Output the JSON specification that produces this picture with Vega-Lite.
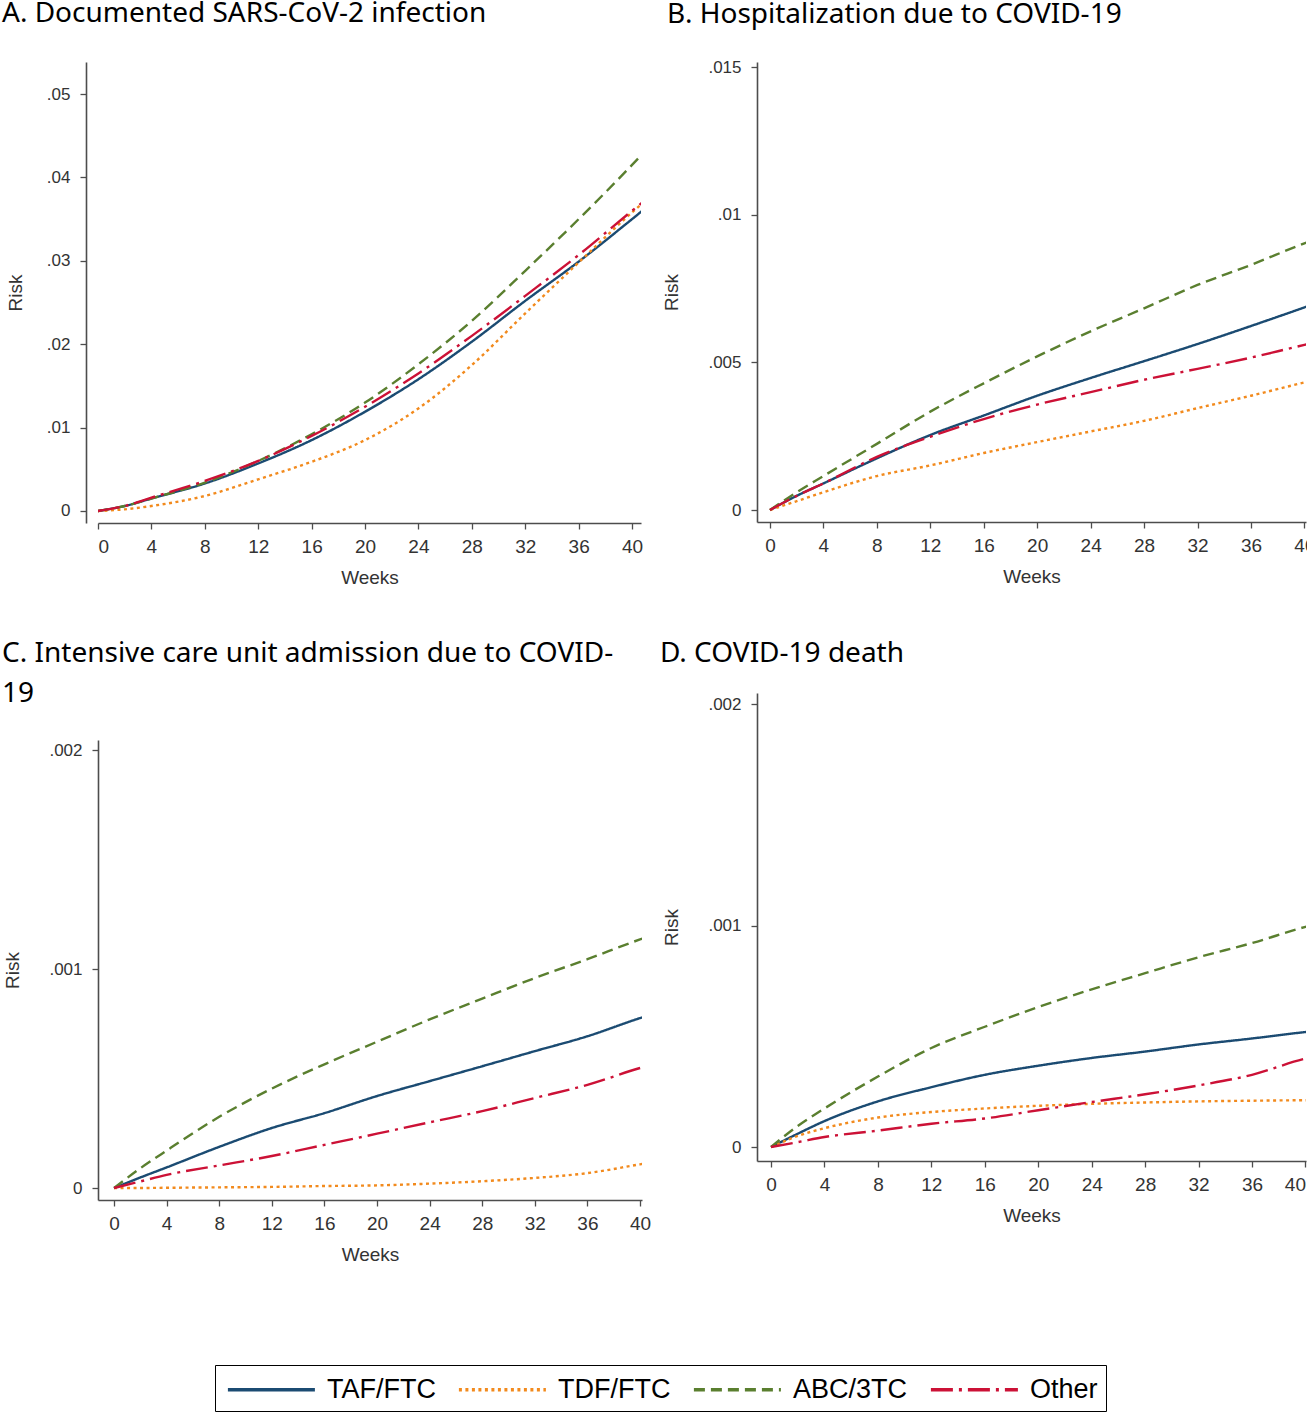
{
  "$schema": "https://vega.github.io/schema/vega-lite/v6.json",
  "padding": {"left": 2, "top": 0, "right": 0, "bottom": 0},
  "background": "white",
  "config": {
    "view": {"stroke": null},
    "axis": {"grid": false, "domainColor": "#4d4d4d", "domainWidth": 1.6, "tickColor": "#4d4d4d", "tickWidth": 1.3, "tickSize": 6, "labelFont": "Liberation Sans", "labelColor": "#333333", "titleFont": "Liberation Sans", "titleFontSize": 19, "titleFontWeight": "normal", "titleColor": "#333333"},
    "axisX": {"labelFontSize": 19, "labelPadding": 8, "titlePadding": 12},
    "axisY": {"labelFontSize": 17, "labelPadding": 10, "titlePadding": 26},
    "title": {"font": "Noto Sans", "fontSize": 28, "fontWeight": "normal", "color": "#000000", "anchor": "start", "frame": "group", "baseline": "alphabetic", "lineHeight": 40},
    "legend": {"title": null, "orient": "none", "legendX": 117, "legendY": 1303, "direction": "horizontal", "columns": 4, "symbolType": "M-0.8,0H5.2", "symbolSize": 841, "symbolStrokeWidth": 3.5, "labelFont": "Liberation Sans", "labelFontSize": 27, "labelColor": "#000000", "labelOffset": 71, "columnPadding": 15, "padding": 8, "strokeColor": "#000000", "fillColor": "#ffffff", "labelLimit": 400}
  },
  "datasets": {
    "A": [
      {"week":0,"regimen":"TAF/FTC","risk":0},{"week":2,"regimen":"TAF/FTC","risk":0.0006},{"week":4,"regimen":"TAF/FTC","risk":0.0015},{"week":8,"regimen":"TAF/FTC","risk":0.0033},{"week":12,"regimen":"TAF/FTC","risk":0.0057},{"week":16,"regimen":"TAF/FTC","risk":0.0085},{"week":20,"regimen":"TAF/FTC","risk":0.0119},{"week":24,"regimen":"TAF/FTC","risk":0.0158},{"week":28,"regimen":"TAF/FTC","risk":0.0203},{"week":32,"regimen":"TAF/FTC","risk":0.0252},{"week":36,"regimen":"TAF/FTC","risk":0.0299},{"week":40,"regimen":"TAF/FTC","risk":0.0350},{"week":41,"regimen":"TAF/FTC","risk":0.0363},
      {"week":0,"regimen":"TDF/FTC","risk":0},{"week":2,"regimen":"TDF/FTC","risk":0.0002},{"week":4,"regimen":"TDF/FTC","risk":0.0006},{"week":8,"regimen":"TDF/FTC","risk":0.0018},{"week":12,"regimen":"TDF/FTC","risk":0.0038},{"week":16,"regimen":"TDF/FTC","risk":0.0059},{"week":20,"regimen":"TDF/FTC","risk":0.0085},{"week":24,"regimen":"TDF/FTC","risk":0.0123},{"week":28,"regimen":"TDF/FTC","risk":0.0175},{"week":32,"regimen":"TDF/FTC","risk":0.0237},{"week":36,"regimen":"TDF/FTC","risk":0.0298},{"week":40,"regimen":"TDF/FTC","risk":0.0358},{"week":41,"regimen":"TDF/FTC","risk":0.0372},
      {"week":0,"regimen":"ABC/3TC","risk":0},{"week":2,"regimen":"ABC/3TC","risk":0.0006},{"week":4,"regimen":"ABC/3TC","risk":0.0015},{"week":8,"regimen":"ABC/3TC","risk":0.0034},{"week":12,"regimen":"ABC/3TC","risk":0.0060},{"week":16,"regimen":"ABC/3TC","risk":0.0092},{"week":20,"regimen":"ABC/3TC","risk":0.0130},{"week":24,"regimen":"ABC/3TC","risk":0.0176},{"week":28,"regimen":"ABC/3TC","risk":0.0228},{"week":32,"regimen":"ABC/3TC","risk":0.0288},{"week":36,"regimen":"ABC/3TC","risk":0.0350},{"week":40,"regimen":"ABC/3TC","risk":0.0415},{"week":41,"regimen":"ABC/3TC","risk":0.0432},
      {"week":0,"regimen":"Other","risk":0},{"week":2,"regimen":"Other","risk":0.0006},{"week":4,"regimen":"Other","risk":0.0016},{"week":8,"regimen":"Other","risk":0.0036},{"week":12,"regimen":"Other","risk":0.0060},{"week":16,"regimen":"Other","risk":0.0090},{"week":20,"regimen":"Other","risk":0.0125},{"week":24,"regimen":"Other","risk":0.0165},{"week":28,"regimen":"Other","risk":0.0210},{"week":32,"regimen":"Other","risk":0.0258},{"week":36,"regimen":"Other","risk":0.0307},{"week":40,"regimen":"Other","risk":0.0360},{"week":41,"regimen":"Other","risk":0.0373}
    ],
    "B": [
      {"week":0,"regimen":"TAF/FTC","risk":0},{"week":2,"regimen":"TAF/FTC","risk":0.00048},{"week":4,"regimen":"TAF/FTC","risk":0.0009},{"week":8,"regimen":"TAF/FTC","risk":0.00175},{"week":12,"regimen":"TAF/FTC","risk":0.00254},{"week":16,"regimen":"TAF/FTC","risk":0.0032},{"week":20,"regimen":"TAF/FTC","risk":0.00387},{"week":24,"regimen":"TAF/FTC","risk":0.00447},{"week":28,"regimen":"TAF/FTC","risk":0.00504},{"week":32,"regimen":"TAF/FTC","risk":0.00562},{"week":36,"regimen":"TAF/FTC","risk":0.00623},{"week":40,"regimen":"TAF/FTC","risk":0.00686},{"week":41,"regimen":"TAF/FTC","risk":0.00702},
      {"week":0,"regimen":"TDF/FTC","risk":0},{"week":2,"regimen":"TDF/FTC","risk":0.0003},{"week":4,"regimen":"TDF/FTC","risk":0.0006},{"week":8,"regimen":"TDF/FTC","risk":0.00115},{"week":12,"regimen":"TDF/FTC","risk":0.00151},{"week":16,"regimen":"TDF/FTC","risk":0.00193},{"week":20,"regimen":"TDF/FTC","risk":0.0023},{"week":24,"regimen":"TDF/FTC","risk":0.00266},{"week":28,"regimen":"TDF/FTC","risk":0.00302},{"week":32,"regimen":"TDF/FTC","risk":0.00345},{"week":36,"regimen":"TDF/FTC","risk":0.00387},{"week":40,"regimen":"TDF/FTC","risk":0.00432},{"week":41,"regimen":"TDF/FTC","risk":0.00443},
      {"week":0,"regimen":"ABC/3TC","risk":0},{"week":2,"regimen":"ABC/3TC","risk":0.0006},{"week":4,"regimen":"ABC/3TC","risk":0.00115},{"week":8,"regimen":"ABC/3TC","risk":0.00224},{"week":12,"regimen":"ABC/3TC","risk":0.00333},{"week":16,"regimen":"ABC/3TC","risk":0.00429},{"week":20,"regimen":"ABC/3TC","risk":0.0052},{"week":24,"regimen":"ABC/3TC","risk":0.00605},{"week":28,"regimen":"ABC/3TC","risk":0.00683},{"week":32,"regimen":"ABC/3TC","risk":0.00762},{"week":36,"regimen":"ABC/3TC","risk":0.0083},{"week":40,"regimen":"ABC/3TC","risk":0.00903},{"week":41,"regimen":"ABC/3TC","risk":0.0092},
      {"week":0,"regimen":"Other","risk":0},{"week":2,"regimen":"Other","risk":0.00048},{"week":4,"regimen":"Other","risk":0.0009},{"week":8,"regimen":"Other","risk":0.0018},{"week":12,"regimen":"Other","risk":0.00248},{"week":16,"regimen":"Other","risk":0.00308},{"week":20,"regimen":"Other","risk":0.00357},{"week":24,"regimen":"Other","risk":0.00399},{"week":28,"regimen":"Other","risk":0.00441},{"week":32,"regimen":"Other","risk":0.00478},{"week":36,"regimen":"Other","risk":0.00516},{"week":40,"regimen":"Other","risk":0.00559},{"week":41,"regimen":"Other","risk":0.00569}
    ],
    "C": [
      {"week":0,"regimen":"TAF/FTC","risk":0},{"week":2,"regimen":"TAF/FTC","risk":0.000048},{"week":4,"regimen":"TAF/FTC","risk":0.000094},{"week":8,"regimen":"TAF/FTC","risk":0.000188},{"week":12,"regimen":"TAF/FTC","risk":0.000274},{"week":16,"regimen":"TAF/FTC","risk":0.000342},{"week":20,"regimen":"TAF/FTC","risk":0.00042},{"week":24,"regimen":"TAF/FTC","risk":0.000488},{"week":28,"regimen":"TAF/FTC","risk":0.000556},{"week":32,"regimen":"TAF/FTC","risk":0.000625},{"week":36,"regimen":"TAF/FTC","risk":0.000693},{"week":40,"regimen":"TAF/FTC","risk":0.000776},{"week":41,"regimen":"TAF/FTC","risk":0.000795},
      {"week":0,"regimen":"TDF/FTC","risk":0},{"week":2,"regimen":"TDF/FTC","risk":0},{"week":4,"regimen":"TDF/FTC","risk":0.000001},{"week":8,"regimen":"TDF/FTC","risk":0.000003},{"week":12,"regimen":"TDF/FTC","risk":0.000005},{"week":16,"regimen":"TDF/FTC","risk":0.000009},{"week":20,"regimen":"TDF/FTC","risk":0.000012},{"week":24,"regimen":"TDF/FTC","risk":0.00002},{"week":28,"regimen":"TDF/FTC","risk":0.000031},{"week":32,"regimen":"TDF/FTC","risk":0.000046},{"week":36,"regimen":"TDF/FTC","risk":0.000068},{"week":40,"regimen":"TDF/FTC","risk":0.000108},{"week":41,"regimen":"TDF/FTC","risk":0.000118},
      {"week":0,"regimen":"ABC/3TC","risk":0},{"week":2,"regimen":"ABC/3TC","risk":0.00009},{"week":4,"regimen":"ABC/3TC","risk":0.000171},{"week":8,"regimen":"ABC/3TC","risk":0.000325},{"week":12,"regimen":"ABC/3TC","risk":0.000454},{"week":16,"regimen":"ABC/3TC","risk":0.000565},{"week":20,"regimen":"ABC/3TC","risk":0.000668},{"week":24,"regimen":"ABC/3TC","risk":0.00077},{"week":28,"regimen":"ABC/3TC","risk":0.000865},{"week":32,"regimen":"ABC/3TC","risk":0.000959},{"week":36,"regimen":"ABC/3TC","risk":0.001045},{"week":40,"regimen":"ABC/3TC","risk":0.001135},{"week":41,"regimen":"ABC/3TC","risk":0.001155},
      {"week":0,"regimen":"Other","risk":0},{"week":2,"regimen":"Other","risk":0.00003},{"week":4,"regimen":"Other","risk":0.00006},{"week":8,"regimen":"Other","risk":0.000103},{"week":12,"regimen":"Other","risk":0.000146},{"week":16,"regimen":"Other","risk":0.000197},{"week":20,"regimen":"Other","risk":0.000248},{"week":24,"regimen":"Other","risk":0.0003},{"week":28,"regimen":"Other","risk":0.000351},{"week":32,"regimen":"Other","risk":0.000411},{"week":36,"regimen":"Other","risk":0.000471},{"week":40,"regimen":"Other","risk":0.000548},{"week":41,"regimen":"Other","risk":0.000565}
    ],
    "D": [
      {"week":0,"regimen":"TAF/FTC","risk":0},{"week":2,"regimen":"TAF/FTC","risk":0.00006},{"week":4,"regimen":"TAF/FTC","risk":0.000117},{"week":8,"regimen":"TAF/FTC","risk":0.000206},{"week":12,"regimen":"TAF/FTC","risk":0.00027},{"week":16,"regimen":"TAF/FTC","risk":0.000326},{"week":20,"regimen":"TAF/FTC","risk":0.000367},{"week":24,"regimen":"TAF/FTC","risk":0.000402},{"week":28,"regimen":"TAF/FTC","risk":0.000431},{"week":32,"regimen":"TAF/FTC","risk":0.000463},{"week":36,"regimen":"TAF/FTC","risk":0.00049},{"week":40,"regimen":"TAF/FTC","risk":0.000519},{"week":41,"regimen":"TAF/FTC","risk":0.000525},
      {"week":0,"regimen":"TDF/FTC","risk":0},{"week":2,"regimen":"TDF/FTC","risk":0.00005},{"week":4,"regimen":"TDF/FTC","risk":0.000085},{"week":8,"regimen":"TDF/FTC","risk":0.000133},{"week":12,"regimen":"TDF/FTC","risk":0.000158},{"week":16,"regimen":"TDF/FTC","risk":0.000174},{"week":20,"regimen":"TDF/FTC","risk":0.000186},{"week":24,"regimen":"TDF/FTC","risk":0.000195},{"week":28,"regimen":"TDF/FTC","risk":0.000201},{"week":32,"regimen":"TDF/FTC","risk":0.000206},{"week":36,"regimen":"TDF/FTC","risk":0.000209},{"week":40,"regimen":"TDF/FTC","risk":0.000211},{"week":41,"regimen":"TDF/FTC","risk":0.000211},
      {"week":0,"regimen":"ABC/3TC","risk":0},{"week":2,"regimen":"ABC/3TC","risk":0.000095},{"week":4,"regimen":"ABC/3TC","risk":0.000174},{"week":8,"regimen":"ABC/3TC","risk":0.000318},{"week":12,"regimen":"ABC/3TC","risk":0.000447},{"week":16,"regimen":"ABC/3TC","risk":0.000543},{"week":20,"regimen":"ABC/3TC","risk":0.000632},{"week":24,"regimen":"ABC/3TC","risk":0.000712},{"week":28,"regimen":"ABC/3TC","risk":0.000785},{"week":32,"regimen":"ABC/3TC","risk":0.000857},{"week":36,"regimen":"ABC/3TC","risk":0.000921},{"week":40,"regimen":"ABC/3TC","risk":0.000994},{"week":41,"regimen":"ABC/3TC","risk":0.00101},
      {"week":0,"regimen":"Other","risk":0},{"week":2,"regimen":"Other","risk":0.000022},{"week":4,"regimen":"Other","risk":0.000045},{"week":8,"regimen":"Other","risk":0.000074},{"week":12,"regimen":"Other","risk":0.000105},{"week":16,"regimen":"Other","risk":0.000129},{"week":20,"regimen":"Other","risk":0.000166},{"week":24,"regimen":"Other","risk":0.000203},{"week":28,"regimen":"Other","risk":0.000238},{"week":32,"regimen":"Other","risk":0.000278},{"week":36,"regimen":"Other","risk":0.000326},{"week":40,"regimen":"Other","risk":0.000399},{"week":41,"regimen":"Other","risk":0.000412}
    ]
  },
  "resolve": {"scale": {"x": "independent", "y": "independent"}},
  "spacing": 9,
  "hconcat": [
    {
      "vconcat": [
        {
          "title": {"text": "A. Documented SARS-CoV-2 infection", "dx": -96, "offset": 34},
          "width": 543, "height": 461,
          "data": {"name": "A"},
          "mark": {"type": "line", "interpolate": "monotone", "strokeWidth": 2.4, "clip": true},
          "encoding": {
            "x": {"field": "week", "type": "quantitative", "scale": {"domain": [0, 40.67], "nice": false, "zero": false}, "axis": {"values": [0,4,8,12,16,20,24,28,32,36,40], "title": "Weeks"}},
            "y": {"field": "risk", "type": "quantitative", "scale": {"domain": [-0.00144, 0.05384], "nice": false, "zero": false}, "axis": {"values": [0,0.01,0.02,0.03,0.04,0.05], "title": "Risk", "offset": 12, "titlePadding": 21, "labelExpr": "datum.value == 0 ? '0' : slice(toString(datum.value), 1)"}},
            "color": {"field": "regimen", "type": "nominal", "title": null, "scale": {"domain": ["TAF/FTC","TDF/FTC","ABC/3TC","Other"], "range": ["#1b4b72","#f28a1d","#5a7f2f","#cc1136"]}},
            "strokeDash": {"field": "regimen", "type": "nominal", "title": null, "scale": {"domain": ["TAF/FTC","TDF/FTC","ABC/3TC","Other"], "range": [[1,0],[3,3.5],[11,6],[22,6,3,6]]}}
          }
        },
        {
          "title": {"text": ["C. Intensive care unit admission due to COVID-", "19"], "dx": -96, "offset": 32},
          "width": 544, "height": 460,
          "data": {"name": "C"},
          "mark": {"type": "line", "interpolate": "monotone", "strokeWidth": 2.4, "clip": true},
          "encoding": {
            "x": {"field": "week", "type": "quantitative", "scale": {"domain": [-1.22, 40.15], "nice": false, "zero": false}, "axis": {"values": [0,4,8,12,16,20,24,28,32,36,40], "title": "Weeks"}},
            "y": {"field": "risk", "type": "quantitative", "scale": {"domain": [-0.0000548, 0.002046], "nice": false, "zero": false}, "axis": {"values": [0,0.001,0.002], "title": "Risk", "labelExpr": "datum.value == 0 ? '0' : slice(toString(datum.value), 1)"}},
            "color": {"field": "regimen", "type": "nominal", "title": null, "scale": {"domain": ["TAF/FTC","TDF/FTC","ABC/3TC","Other"], "range": ["#1b4b72","#f28a1d","#5a7f2f","#cc1136"]}},
            "strokeDash": {"field": "regimen", "type": "nominal", "title": null, "scale": {"domain": ["TAF/FTC","TDF/FTC","ABC/3TC","Other"], "range": [[1,0],[3,3.5],[11,6],[22,6,3,6]]}}
          }
        }
      ],
      "spacing": 217,
      "bounds": "flush",
      "resolve": {"scale": {"x": "independent", "y": "independent"}}
    },
    {
      "vconcat": [
        {
          "title": {"text": "B. Hospitalization due to COVID-19", "dx": -90, "offset": 29},
          "width": 549, "height": 460,
          "data": {"name": "B"},
          "mark": {"type": "line", "interpolate": "monotone", "strokeWidth": 2.4, "clip": true},
          "encoding": {
            "x": {"field": "week", "type": "quantitative", "scale": {"domain": [-0.97, 40.12], "nice": false, "zero": false}, "axis": {"values": [0,4,8,12,16,20,24,28,32,36,40], "title": "Weeks"}},
            "y": {"field": "risk", "type": "quantitative", "scale": {"domain": [-0.000406, 0.01517], "nice": false, "zero": false}, "axis": {"values": [0,0.005,0.01,0.015], "title": "Risk", "labelExpr": "datum.value == 0 ? '0' : slice(toString(datum.value), 1)"}},
            "color": {"field": "regimen", "type": "nominal", "title": null, "scale": {"domain": ["TAF/FTC","TDF/FTC","ABC/3TC","Other"], "range": ["#1b4b72","#f28a1d","#5a7f2f","#cc1136"]}},
            "strokeDash": {"field": "regimen", "type": "nominal", "title": null, "scale": {"domain": ["TAF/FTC","TDF/FTC","ABC/3TC","Other"], "range": [[1,0],[3,3.5],[11,6],[22,6,3,6]]}}
          }
        },
        {
          "title": {"text": "D. COVID-19 death", "dx": -97, "offset": 25},
          "width": 549, "height": 468,
          "data": {"name": "D"},
          "mark": {"type": "line", "interpolate": "monotone", "strokeWidth": 2.4, "clip": true},
          "encoding": {
            "x": {"field": "week", "type": "quantitative", "scale": {"domain": [-1.05, 40.04], "nice": false, "zero": false}, "axis": {"values": [0,4,8,12,16,20,24,28,32,36,40], "title": "Weeks"}},
            "y": {"field": "risk", "type": "quantitative", "scale": {"domain": [-0.0000632, 0.00205], "nice": false, "zero": false}, "axis": {"values": [0,0.001,0.002], "title": "Risk", "labelExpr": "datum.value == 0 ? '0' : slice(toString(datum.value), 1)"}},
            "color": {"field": "regimen", "type": "nominal", "title": null, "scale": {"domain": ["TAF/FTC","TDF/FTC","ABC/3TC","Other"], "range": ["#1b4b72","#f28a1d","#5a7f2f","#cc1136"]}},
            "strokeDash": {"field": "regimen", "type": "nominal", "title": null, "scale": {"domain": ["TAF/FTC","TDF/FTC","ABC/3TC","Other"], "range": [[1,0],[3,3.5],[11,6],[22,6,3,6]]}}
          }
        }
      ],
      "spacing": 171,
      "bounds": "flush",
      "resolve": {"scale": {"x": "independent", "y": "independent"}}
    }
  ]
}
